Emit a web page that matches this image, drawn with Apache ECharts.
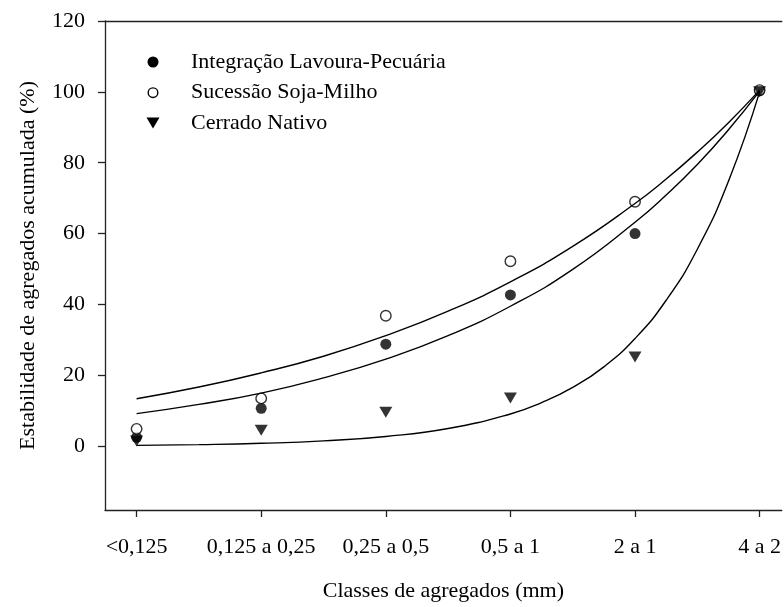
<!DOCTYPE html>
<html>
<head>
<meta charset="utf-8">
<script src="https://cdn.jsdelivr.net/npm/echarts@6/dist/echarts.min.js"></script>
<style>html,body{margin:0;padding:0;background:#fff;}#c{width:784px;height:607px;}</style>
</head>
<body>
<div id="c"></div>
<script>
// ---- data ----
var categories = ['<0,125', '0,125 a 0,25', '0,25 a 0,5', '0,5 a 1', '2 a 1', '4 a 2'];
var seriesNames = ['Integração Lavoura-Pecuária', 'Sucessão Soja-Milho', 'Cerrado Nativo'];
var ilp = [2.5, 10.7, 28.8, 42.7, 60.0, 100.3];
var ssm = [4.9, 13.5, 36.8, 52.2, 69.0, 100.5];
var cn  = [1.5, 4.5, 9.6, 13.6, 25.2, 100.0];
// fitted curves at these category positions
var curveX   = [0, 0.5, 1, 1.5, 2, 2.5, 3, 3.5, 4, 4.25, 4.5, 4.75, 5];
var ilpCurve = [9.2, 11.8, 15.0, 19.3, 24.6, 31.2, 39.5, 49.9, 63.2, 70.9, 79.5, 89.3, 100.2];
var ssmCurve = [13.4, 16.7, 20.7, 25.4, 31.2, 38.1, 46.4, 56.4, 68.5, 75.4, 83.0, 91.3, 100.5];
var cnX      = [0, 0.5, 1, 1.5, 2, 2.5, 3, 3.25, 3.5, 3.75, 4, 4.25, 4.5, 4.75, 5];
var cnCurve  = [0.25, 0.45, 0.82, 1.5, 2.75, 5.0, 9.1, 12.3, 16.6, 22.4, 30.4, 41.2, 55.6, 74.8, 100.0];
var yTicks = [0, 20, 40, 60, 80, 100, 120];
var xTicks = [0, 1, 2, 3, 4, 5];

var FONT = 'Liberation Serif';
function pts(xs, ys) { return ys.map(function (v, i) { return [xs[i], v]; }); }
var idx = categories.map(function (c, i) { return i; });

var chart = echarts.init(document.getElementById('c'), null, {renderer: 'canvas'});
var axisLineStyle = {color: '#222', width: 1.3};
var tri = 'path://M0,0L12,0L6,10Z';
var curveStyle = {color: '#000', width: 1.4};

var option = {
  animation: false,
  backgroundColor: '#fff',
  grid: {left: 105, right: 0, top: 21, bottom: 91},
  xAxis: [{
    type: 'value', min: -0.2536, max: 5.178, position: 'bottom',
    axisLine: {show: true, onZero: false, lineStyle: axisLineStyle},
    axisTick: {show: true, length: 7, inside: false, customValues: xTicks, lineStyle: axisLineStyle},
    axisLabel: {show: true, customValues: xTicks, margin: 26, color: '#000', fontFamily: FONT, fontSize: 22,
      formatter: function (v) { return categories[Math.round(v)]; }},
    splitLine: {show: false},
    name: 'Classes de agregados (mm)', nameLocation: 'middle', nameGap: 70,
    nameTextStyle: {color: '#000', fontFamily: FONT, fontSize: 22}
  }, {
    type: 'value', min: -0.2536, max: 5.178, position: 'top',
    axisLine: {show: true, onZero: false, lineStyle: axisLineStyle},
    axisTick: {show: false}, axisLabel: {show: false}, splitLine: {show: false}
  }],
  yAxis: {
    type: 'value', min: -18, max: 120,
    axisLine: {show: true, onZero: false, lineStyle: axisLineStyle},
    axisTick: {show: true, length: 7, customValues: yTicks, lineStyle: axisLineStyle},
    axisLabel: {show: true, customValues: yTicks, margin: 20, color: '#000', fontFamily: FONT, fontSize: 22},
    splitLine: {show: false},
    name: 'Estabilidade de agregados acumulada (%)', nameLocation: 'middle', nameGap: 66,
    nameTextStyle: {color: '#000', fontFamily: FONT, fontSize: 22}
  },
  series: [
    {type: 'line', data: pts(curveX, ilpCurve), smooth: 0.5, symbol: 'none', lineStyle: curveStyle, silent: true},
    {type: 'line', data: pts(curveX, ssmCurve), smooth: 0.5, symbol: 'none', lineStyle: curveStyle, silent: true},
    {type: 'line', data: pts(cnX, cnCurve), smooth: 0.5, symbol: 'none', lineStyle: curveStyle, silent: true},
    {name: seriesNames[0], type: 'scatter', data: pts(idx, ilp), symbol: 'circle', symbolSize: 11,
      itemStyle: {color: '#000'}},
    {name: seriesNames[1], type: 'scatter', data: pts(idx, ssm), symbol: 'circle', symbolSize: 10.5,
      itemStyle: {color: '#fff', borderColor: '#000', borderWidth: 1.4}},
    {name: seriesNames[2], type: 'scatter', data: pts(idx, cn), symbol: tri, symbolSize: [13, 11],
      itemStyle: {color: '#000'}}
  ],
  graphic: [
    {type: 'circle', shape: {cx: 153, cy: 62, r: 5.5}, style: {fill: '#000'}},
    {type: 'circle', shape: {cx: 153, cy: 92.7, r: 4.8}, style: {fill: '#fff', stroke: '#000', lineWidth: 1.4}},
    {type: 'polygon', shape: {points: [[146.5, 117.5], [159.5, 117.5], [153, 128.5]]}, style: {fill: '#000'}},
    {type: 'text', x: 191, y: 62, style: {text: seriesNames[0], fill: '#000', font: '22px "Liberation Serif"', textVerticalAlign: 'middle'}},
    {type: 'text', x: 191, y: 92.7, style: {text: seriesNames[1], fill: '#000', font: '22px "Liberation Serif"', textVerticalAlign: 'middle'}},
    {type: 'text', x: 191, y: 123, style: {text: seriesNames[2], fill: '#000', font: '22px "Liberation Serif"', textVerticalAlign: 'middle'}}
  ]
};
chart.setOption(option);
</script>
</body>
</html>
